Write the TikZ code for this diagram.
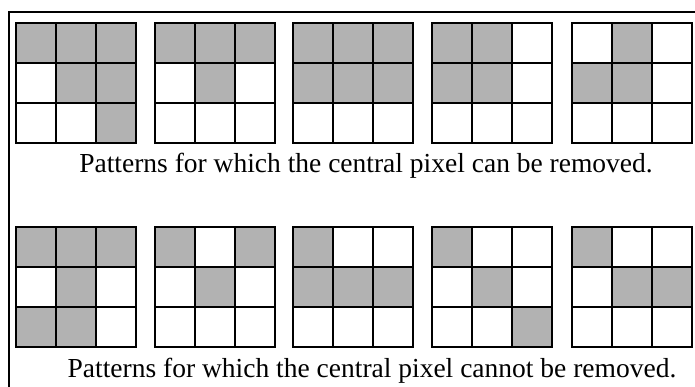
\documentclass[tikz,border=0pt]{standalone}
\usepackage{fontspec}
\setmainfont{Liberation Serif}
\newcommand{\pgrid}[3]{%
  \foreach \c/\r in {#3} {
    \fill[shaded] ({#1+40*\c-40},{#2+40*\r-40}) rectangle ++(40,40);
  }
  \foreach \i in {1,2} {
    \draw[gridline] ({#1+40*\i},#2) -- ++(0,120);
    \draw[gridline] (#1,{#2+40*\i}) -- ++(120,0);
  }
  \draw[gridline] (#1,#2) rectangle ++(120,120);
}
\begin{document}
\begin{tikzpicture}[x=1pt,y=-1pt,
  gridline/.style={line width=2.8pt, line join=miter},
  shaded/.style={fill=black!30},
  frameline/.style={line width=2pt},
  caption/.style={font=\fontsize{27.5}{30}\selectfont, inner sep=0pt, anchor=base}]
\useasboundingbox (0,0) rectangle (695,387);
\coordinate (fb) at (9,387);
\coordinate (fc) at (9,12);
\coordinate (fr) at (695,12);
\draw[frameline] (fb) -- (fc) -- (fr);
% row 1
\pgrid{16}{23}{1/1,2/1,3/1,2/2,3/2,3/3}
\pgrid{155}{23}{1/1,2/1,3/1,2/2}
\pgrid{293}{23}{1/1,2/1,3/1,1/2,2/2,3/2}
\pgrid{432}{23}{1/1,2/1,1/2,2/2}
\pgrid{572}{23}{2/1,1/2,2/2}
% row 2
\pgrid{16}{227}{1/1,2/1,3/1,2/2,1/3,2/3}
\pgrid{155}{227}{1/1,3/1,2/2}
\pgrid{293}{227}{1/1,1/2,2/2,3/2}
\pgrid{432}{227}{1/1,2/2,3/3}
\pgrid{572}{227}{1/1,2/2,3/2}
\node[caption] (cap1) at (366,173) {Patterns for which the central pixel can be removed.};
\node[caption] (cap2) at (372,377) {Patterns for which the central pixel cannot be removed.};
\end{tikzpicture}
\end{document}
